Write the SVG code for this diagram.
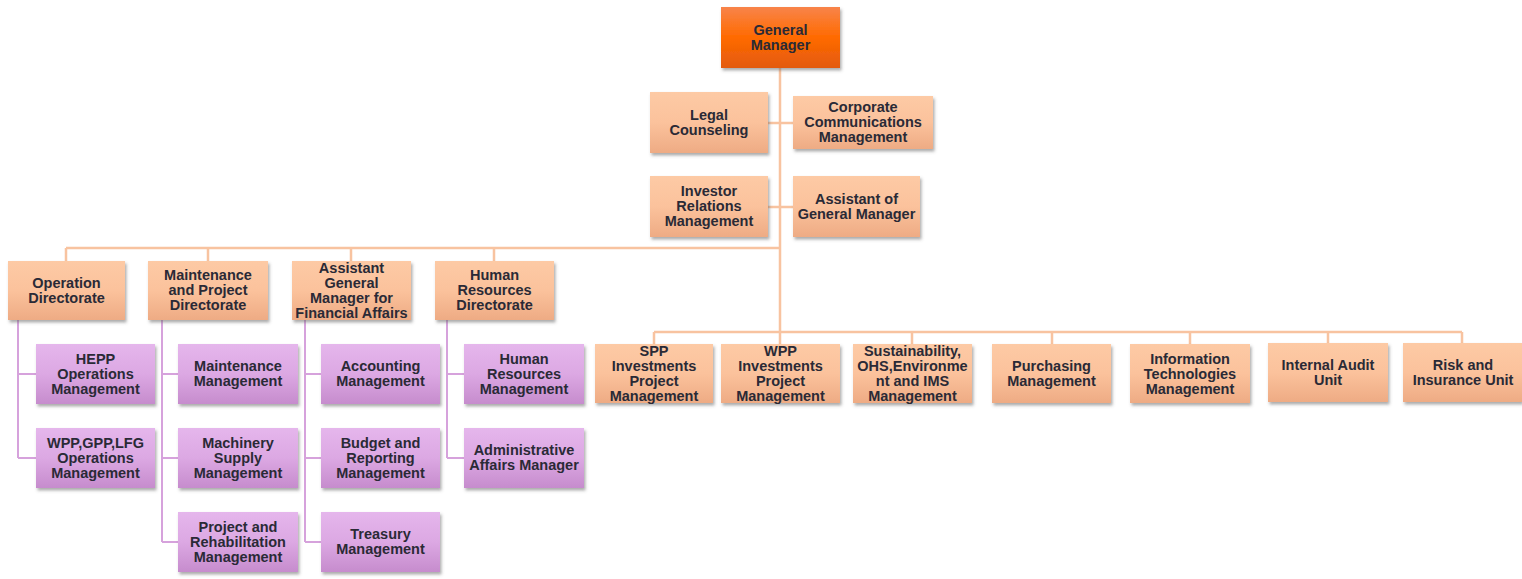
<svg xmlns="http://www.w3.org/2000/svg" width="1522" height="579" viewBox="0 0 1522 579">
<defs>
<linearGradient id="gPeach" x1="0" y1="0" x2="0" y2="1">
<stop offset="0" stop-color="#fdcaa5"/><stop offset="0.5" stop-color="#fbc29c"/><stop offset="1" stop-color="#eeab84"/>
</linearGradient>
<linearGradient id="gPurple" x1="0" y1="0" x2="0" y2="1">
<stop offset="0" stop-color="#e5b6ec"/><stop offset="0.5" stop-color="#dca8e3"/><stop offset="1" stop-color="#c68ccd"/>
</linearGradient>
<linearGradient id="gOrange" x1="0" y1="0" x2="0" y2="1">
<stop offset="0" stop-color="#f8844a"/><stop offset="0.5" stop-color="#ff6a00"/><stop offset="1" stop-color="#e35a0e"/>
</linearGradient>
<filter id="sh" x="-10%" y="-10%" width="125%" height="130%">
<feDropShadow dx="1.5" dy="2.5" stdDeviation="1.5" flood-color="#666" flood-opacity="0.55"/>
</filter>
</defs>
<style>
.peach{fill:url(#gPeach);filter:url(#sh)}
.purple{fill:url(#gPurple);filter:url(#sh)}
.orange{fill:url(#gOrange);filter:url(#sh)}
text{font-family:"Liberation Sans",Arial,sans-serif;font-weight:bold;font-size:14.5px;fill:#2a2a36;text-anchor:middle}
.cO{stroke:#f8c3a0;stroke-width:2.5;fill:none}
.cP{stroke:#d6a2dc;stroke-width:2;fill:none}
</style>
<rect width="1522" height="579" fill="#ffffff"/>
<g id="connectors">
<path class="cO" d="M780 68V332M768 123H793M768 207H793M66 248H780M66 248V261M208 248V261M351 248V261M494 248V261"/>
<path class="cO" d="M654 332H1462M654 332V344M912 332V344M1052 332V344M1190 332V344M1328 332V343M1462 332V343M780 332V344"/>
<path class="cP" d="M18 320V458M18 374H36M18 458H36"/>
<path class="cP" d="M162 320V542M162 374H178M162 458H178M162 542H178"/>
<path class="cP" d="M305 320V542M305 374H321M305 458H321M305 542H321"/>
<path class="cP" d="M447 320V458M447 374H464M447 458H464"/>
</g>
<g id="gm"><rect class="orange" x="721" y="7" width="119" height="61"/><text x="780.5" y="35">General</text><text x="780.5" y="50">Manager</text></g>
<g id="legal"><rect class="peach" x="650" y="92" width="118" height="61"/><text x="709" y="120">Legal</text><text x="709" y="135">Counseling</text></g>
<g id="corporate"><rect class="peach" x="793" y="96" width="140" height="53"/><text x="863" y="112">Corporate</text><text x="863" y="127">Communications</text><text x="863" y="142">Management</text></g>
<g id="investor"><rect class="peach" x="650" y="176" width="118" height="61"/><text x="709" y="196">Investor</text><text x="709" y="211">Relations</text><text x="709" y="226">Management</text></g>
<g id="assistant"><rect class="peach" x="793" y="176" width="127" height="61"/><text x="856.5" y="204">Assistant of</text><text x="856.5" y="219">General Manager</text></g>
<g id="operation"><rect class="peach" x="8" y="261" width="117" height="59"/><text x="66.5" y="288">Operation</text><text x="66.5" y="303">Directorate</text></g>
<g id="maintenance-dir"><rect class="peach" x="148" y="261" width="120" height="59"/><text x="208" y="280">Maintenance</text><text x="208" y="295">and Project</text><text x="208" y="310">Directorate</text></g>
<g id="agm-fin"><rect class="peach" x="292" y="261" width="119" height="59"/><text x="351.5" y="273">Assistant</text><text x="351.5" y="288">General</text><text x="351.5" y="303">Manager for</text><text x="351.5" y="318">Financial Affairs</text></g>
<g id="hr-dir"><rect class="peach" x="435" y="261" width="119" height="59"/><text x="494.5" y="280">Human</text><text x="494.5" y="295">Resources</text><text x="494.5" y="310">Directorate</text></g>
<g id="hepp"><rect class="purple" x="36" y="344" width="119" height="60"/><text x="95.5" y="364">HEPP</text><text x="95.5" y="379">Operations</text><text x="95.5" y="394">Management</text></g>
<g id="wpp-ops"><rect class="purple" x="36" y="428" width="119" height="60"/><text x="95.5" y="448">WPP,GPP,LFG</text><text x="95.5" y="463">Operations</text><text x="95.5" y="478">Management</text></g>
<g id="maint-mgmt"><rect class="purple" x="178" y="344" width="120" height="60"/><text x="238" y="371">Maintenance</text><text x="238" y="386">Management</text></g>
<g id="machinery"><rect class="purple" x="178" y="428" width="120" height="60"/><text x="238" y="448">Machinery</text><text x="238" y="463">Supply</text><text x="238" y="478">Management</text></g>
<g id="project-rehab"><rect class="purple" x="178" y="512" width="120" height="60"/><text x="238" y="532">Project and</text><text x="238" y="547">Rehabilitation</text><text x="238" y="562">Management</text></g>
<g id="accounting"><rect class="purple" x="321" y="344" width="119" height="60"/><text x="380.5" y="371">Accounting</text><text x="380.5" y="386">Management</text></g>
<g id="budget"><rect class="purple" x="321" y="428" width="119" height="60"/><text x="380.5" y="448">Budget and</text><text x="380.5" y="463">Reporting</text><text x="380.5" y="478">Management</text></g>
<g id="treasury"><rect class="purple" x="321" y="512" width="119" height="60"/><text x="380.5" y="539">Treasury</text><text x="380.5" y="554">Management</text></g>
<g id="hr-mgmt"><rect class="purple" x="464" y="344" width="120" height="60"/><text x="524" y="364">Human</text><text x="524" y="379">Resources</text><text x="524" y="394">Management</text></g>
<g id="admin"><rect class="purple" x="464" y="428" width="120" height="60"/><text x="524" y="455">Administrative</text><text x="524" y="470">Affairs Manager</text></g>
<g id="spp"><rect class="peach" x="595" y="344" width="118" height="59"/><text x="654" y="356">SPP</text><text x="654" y="371">Investments</text><text x="654" y="386">Project</text><text x="654" y="401">Management</text></g>
<g id="wpp-inv"><rect class="peach" x="721" y="344" width="119" height="59"/><text x="780.5" y="356">WPP</text><text x="780.5" y="371">Investments</text><text x="780.5" y="386">Project</text><text x="780.5" y="401">Management</text></g>
<g id="sustain"><rect class="peach" x="853" y="344" width="119" height="59"/><text x="912.5" y="356">Sustainability,</text><text x="912.5" y="371">OHS,Environme</text><text x="912.5" y="386">nt and IMS</text><text x="912.5" y="401">Management</text></g>
<g id="purchasing"><rect class="peach" x="992" y="344" width="119" height="59"/><text x="1051.5" y="371">Purchasing</text><text x="1051.5" y="386">Management</text></g>
<g id="it"><rect class="peach" x="1130" y="344" width="120" height="59"/><text x="1190" y="364">Information</text><text x="1190" y="379">Technologies</text><text x="1190" y="394">Management</text></g>
<g id="audit"><rect class="peach" x="1268" y="343" width="120" height="59"/><text x="1328" y="370">Internal Audit</text><text x="1328" y="385">Unit</text></g>
<g id="risk"><rect class="peach" x="1403" y="343" width="119" height="59"/><text x="1463" y="370">Risk and</text><text x="1463" y="385">Insurance Unit</text></g>
</svg>
